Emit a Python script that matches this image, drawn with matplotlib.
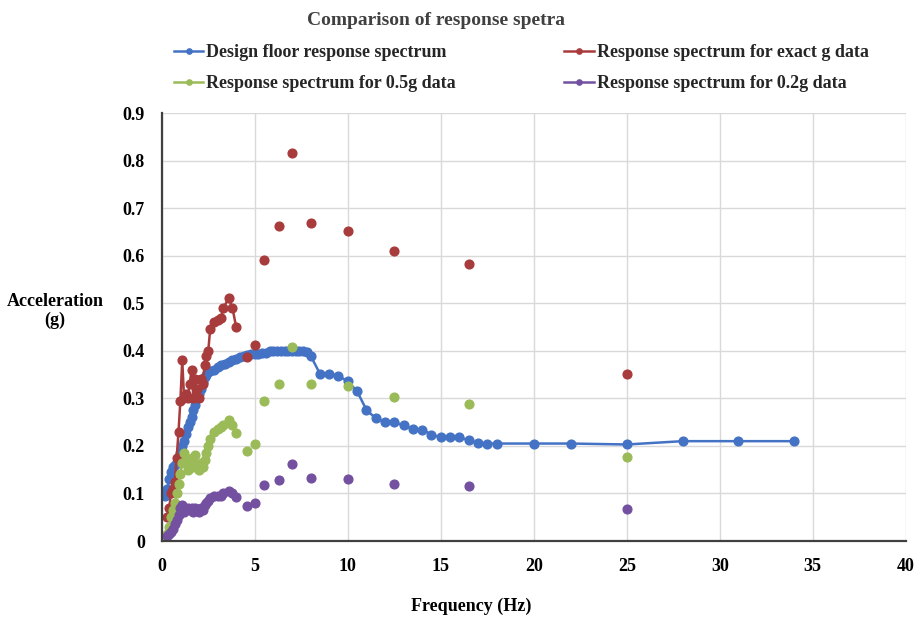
import numpy as np
import matplotlib
matplotlib.use("Agg")
import matplotlib.pyplot as plt

# ── Data ──────────────────────────────────────────────────────────────────────
design_f = [0.2, 0.3, 0.4, 0.5, 0.6, 0.7, 0.8, 0.9, 1.0, 1.1, 1.2, 1.3, 1.4, 1.5,
            1.6, 1.7, 1.8, 1.9, 2.0, 2.1, 2.2, 2.3, 2.4, 2.5, 2.6, 2.8, 3.0, 3.2,
            3.4, 3.6, 3.8, 4.0, 4.2, 4.4, 4.6, 4.8, 5.0, 5.2, 5.4, 5.6, 5.8, 6.0,
            6.2, 6.4, 6.6, 6.8, 7.0, 7.2, 7.4, 7.6, 7.8, 8.0, 8.5, 9.0, 9.5, 10.0,
            10.5, 11.0, 11.5, 12.0, 12.5, 13.0, 13.5, 14.0, 14.5, 15.0, 15.5, 16.0,
            16.5, 17.0, 17.5, 18.0, 20.0, 22.0, 25.0, 28.0, 31.0, 34.0]
design_a = [0.095, 0.11, 0.13, 0.145, 0.155, 0.16, 0.165, 0.17, 0.185, 0.2, 0.21,
            0.225, 0.24, 0.25, 0.26, 0.275, 0.285, 0.3, 0.31, 0.32, 0.335, 0.345,
            0.35, 0.355, 0.357, 0.36, 0.365, 0.37, 0.372, 0.376, 0.38, 0.383,
            0.386, 0.39, 0.392, 0.393, 0.393, 0.394, 0.395, 0.396, 0.4, 0.4, 0.4,
            0.4, 0.4, 0.4, 0.4, 0.4, 0.4, 0.4, 0.398, 0.39, 0.352, 0.352, 0.347,
            0.336, 0.315, 0.276, 0.258, 0.25, 0.25, 0.243, 0.236, 0.234, 0.224,
            0.218, 0.218, 0.218, 0.212, 0.206, 0.205, 0.205, 0.205, 0.205, 0.203,
            0.21, 0.21, 0.21]

# low-frequency part of the recorded spectra (joined by a line)
low_f = [0.3, 0.4, 0.5, 0.6, 0.7, 0.8, 0.9, 1.0, 1.1, 1.2, 1.3, 1.4, 1.5, 1.6,
         1.7, 1.8, 1.9, 2.0, 2.1, 2.2, 2.3, 2.4, 2.5, 2.6, 2.8, 3.0, 3.2, 3.3,
         3.6, 3.8, 4.0]
exact_low = [0.05, 0.07, 0.1, 0.11, 0.125, 0.175, 0.23, 0.295, 0.38, 0.3, 0.31,
             0.3, 0.33, 0.36, 0.3, 0.34, 0.32, 0.3, 0.34, 0.33, 0.37, 0.39, 0.4,
             0.445, 0.46, 0.465, 0.47, 0.49, 0.51, 0.49, 0.45]
half_low = [0.015, 0.03, 0.05, 0.065, 0.08, 0.1, 0.12, 0.14, 0.165, 0.185, 0.17,
            0.15, 0.16, 0.175, 0.155, 0.18, 0.16, 0.15, 0.165, 0.155, 0.17, 0.185,
            0.2, 0.215, 0.23, 0.235, 0.24, 0.245, 0.255, 0.245, 0.228]
fifth_low = [0.01, 0.015, 0.02, 0.025, 0.035, 0.045, 0.055, 0.07, 0.075, 0.06,
             0.065, 0.07, 0.065, 0.07, 0.06, 0.07, 0.065, 0.06, 0.07, 0.065, 0.075,
             0.08, 0.085, 0.09, 0.095, 0.095, 0.095, 0.1, 0.105, 0.1, 0.092]

# isolated points at higher frequencies (no line)
high_f = [4.6, 5.0, 5.5, 6.3, 7.0, 8.0, 10.0, 12.5, 16.5, 25.0]
exact_high = [0.388, 0.413, 0.59, 0.662, 0.816, 0.669, 0.651, 0.609, 0.583, 0.352]
half_high = [0.19, 0.205, 0.295, 0.33, 0.408, 0.331, 0.325, 0.302, 0.289, 0.176]
fifth_high = [0.073, 0.081, 0.118, 0.128, 0.163, 0.133, 0.13, 0.12, 0.115, 0.068]

x_ticks = [0, 5, 10, 15, 20, 25, 30, 35, 40]
y_ticks = [0, 0.1, 0.2, 0.3, 0.4, 0.5, 0.6, 0.7, 0.8, 0.9]

# ── Style ─────────────────────────────────────────────────────────────────────
plt.rcParams["font.family"] = ["Liberation Serif", "DejaVu Serif"]
plt.rcParams["font.weight"] = "bold"

BLUE = "#4472C4"
RED = "#A83B3B"
GREEN = "#9BBB59"
PURPLE = "#7451A0"

fig = plt.figure(figsize=(9.14, 6.28), dpi=100)
ax = fig.add_axes([0.177, 0.1385, 0.814, 0.6815])

mk = dict(marker="o", markersize=6.3, linewidth=1.8)

h_design, = ax.plot(design_f, design_a, color=BLUE,
                    label="Design floor response spectrum", **mk)


def joined(low_a, high_a):
    # blank cell between the joined part and the scattered points
    xs = low_f + [np.nan]
    ys = low_a + [np.nan]
    for f, a in zip(high_f, high_a):
        xs += [f, np.nan]
        ys += [a, np.nan]
    return xs, ys


x, y = joined(exact_low, exact_high)
h_exact, = ax.plot(x, y, color=RED, label="Response spectrum for exact g data", **mk)
x, y = joined(half_low, half_high)
h_half, = ax.plot(x, y, color=GREEN, label="Response spectrum for 0.5g data", **mk)
x, y = joined(fifth_low, fifth_high)
h_fifth, = ax.plot(x, y, color=PURPLE, label="Response spectrum for 0.2g data", **mk)

# ── Axes formatting ───────────────────────────────────────────────────────────
ax.set_xlim(0, 40)
ax.set_ylim(0, 0.9)
ax.set_xticks(x_ticks)
ax.set_yticks(y_ticks)
ax.set_xticklabels([str(t) for t in x_ticks])
ax.set_yticklabels(["0"] + [f"{t:.1f}" for t in y_ticks[1:]])
ax.tick_params(length=0, labelsize=13, pad=12)
for lab in ax.get_xticklabels() + ax.get_yticklabels():
    lab.set_fontweight("bold")

ax.grid(True, color="#d9d9d9", linewidth=1.0)
ax.set_axisbelow(True)
for side in ("top", "right"):
    ax.spines[side].set_visible(False)
for side in ("left", "bottom"):
    ax.spines[side].set_color("#404040")
    ax.spines[side].set_linewidth(1.6)

fig.text(0.06, 0.505, "Acceleration\n(g)", ha="center", va="center",
         fontsize=13, fontweight="bold", linespacing=1.1)
fig.text(0.515, 0.035, "Frequency (Hz)", ha="center", va="center",
         fontsize=13, fontweight="bold")
fig.text(0.477, 0.968, "Comparison of response spetra", ha="center", va="center",
         fontsize=14, fontweight="bold", color="#404040")

# column-wise fill: design / 0.5g in col 1, exact / 0.2g in col 2
handles = [h_design, h_half, h_exact, h_fifth]
leg = fig.legend(handles=handles, labels=[h.get_label() for h in handles],
                 loc="upper left", bbox_to_anchor=(0.19, 0.93), ncol=2,
                 frameon=False, handlelength=1.65, handletextpad=0.15,
                 columnspacing=6.0, labelspacing=0.8, markerscale=0.6,
                 borderaxespad=0.0, borderpad=0.0,
                 prop=dict(weight="bold", size=13))
for t in leg.get_texts():
    t.set_color("#262626")

fig.savefig("out.png", dpi=100)
